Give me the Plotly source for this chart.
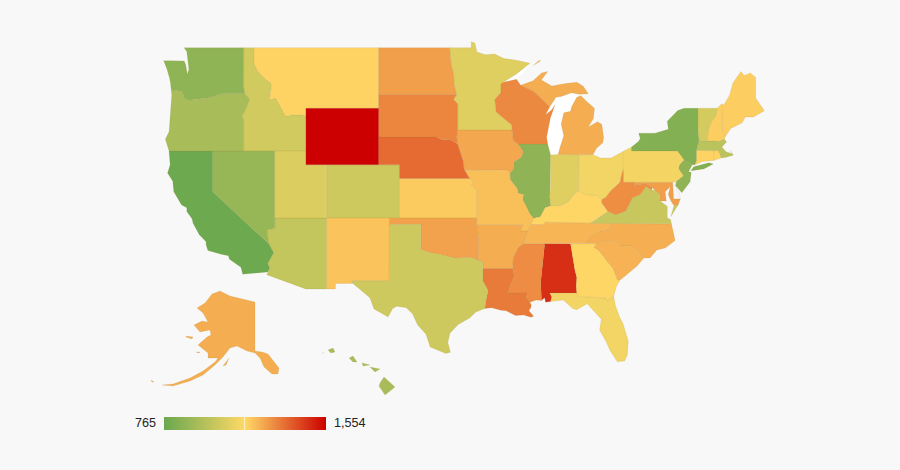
import math
import plotly.graph_objects as go
from plotly.colors import sample_colorscale

states = ['AL', 'AK', 'AZ', 'AR', 'CA', 'CO', 'CT', 'DE', 'FL', 'GA', 'HI', 'ID', 'IL', 'IN', 'IA', 'KS', 'KY',
          'LA', 'ME', 'MD', 'MA', 'MI', 'MN', 'MS', 'MO', 'MT', 'NE', 'NV', 'NH', 'NJ', 'NM', 'NY', 'NC', 'ND',
          'OH', 'OK', 'OR', 'PA', 'RI', 'SC', 'SD', 'TN', 'TX', 'UT', 'VT', 'VA', 'WA', 'WV', 'WI', 'WY']
values = [1470, 1240, 1000, 1240, 772, 1030, 1170, None, 1125, 1165, 930, 1035, 865, 1075, 1250, 1185, 1165,
          1330, 1180, 1265, 980, 1240, 1075, 1300, 1205, 1170, 1360, 885, 1180, 865, 1200, 830, 1235, 1265,
          1125, 1260, 930, 1130, 1170, 1230, 1310, 1225, 1030, 1065, 1045, 1015, 860, 1295, 1305, 1554]
legend_labels = ['765', '1,554']
zmin = 765
zmax = 1554
colorscale = [[0, '#6aa84f'], [0.5, '#ffd966'], [1, '#cc0000']]

# state outlines, lon/lat
outlines = {
    'WA': [[(-122.76, 49), (-117.03, 49), (-117.04, 46.4), (-116.92, 46), (-118.98, 46), (-119.3, 45.93),
            (-120.5, 45.7), (-121.2, 45.65), (-122.3, 45.55), (-122.75, 45.7), (-122.9, 46.1), (-123.4, 46.2),
            (-124, 46.25), (-124.07, 46.7), (-124.15, 47), (-124.4, 47.6), (-124.72, 48.17), (-124, 48.17),
            (-123.1, 48.15), (-122.75, 48.15), (-122.6, 47.9), (-122.45, 47.3), (-122.3, 47.6), (-122.4, 48.2),
            (-122.5, 48.75)]],
    'OR': [[(-124, 46.25), (-123.4, 46.2), (-122.9, 46.1), (-122.75, 45.7), (-122.3, 45.55), (-121.2, 45.65),
            (-120.5, 45.7), (-119.3, 45.93), (-118.98, 46), (-116.92, 46), (-116.46, 45.6), (-116.85, 44.95),
            (-117.2, 44.45), (-117.03, 44.2), (-117.03, 42), (-124.21, 42), (-124.4, 42.4), (-124.56, 42.84),
            (-124.2, 43.4), (-124.05, 44.6), (-123.95, 45.9)]],
    'ID': [[(-117.03, 49), (-116.05, 49), (-116.05, 48), (-115.7, 47.5), (-115, 47), (-114.35, 46.65),
            (-114.55, 45.56), (-113.95, 45.7), (-113.45, 45.05), (-113, 44.45), (-112.3, 44.55), (-111.5, 44.55),
            (-111.05, 44.48), (-111.05, 42), (-117.03, 42), (-117.03, 44.2), (-117.2, 44.45), (-116.85, 44.95),
            (-116.46, 45.6), (-116.92, 46), (-117.04, 46.4)]],
    'MT': [[(-116.05, 49), (-104.05, 49), (-104.05, 45), (-111.05, 45), (-111.05, 44.48), (-111.5, 44.55),
            (-112.3, 44.55), (-113, 44.45), (-113.45, 45.05), (-113.95, 45.7), (-114.55, 45.56), (-114.35, 46.65),
            (-115, 47), (-115.7, 47.5), (-116.05, 48)]],
    'WY': [[(-111.05, 45), (-104.05, 45), (-104.05, 41), (-111.05, 41)]],
    'CO': [[(-109.05, 41), (-102.05, 41), (-102.05, 37), (-109.05, 37)]],
    'UT': [[(-114.04, 42), (-111.05, 42), (-111.05, 41), (-109.05, 41), (-109.05, 37), (-114.04, 37)]],
    'NV': [[(-120, 42), (-114.04, 42), (-114.04, 36.2), (-114.75, 36.1), (-114.7, 35.4), (-114.63, 35), (-120, 39)]],
    'CA': [[(-124.21, 42), (-120, 42), (-120, 39), (-114.63, 35), (-114.15, 34.27), (-114.72, 33.4), (-114.52, 33.03),
            (-114.72, 32.72), (-117.12, 32.53), (-117.3, 33.1), (-118.4, 33.75), (-118.5, 34.03), (-119.2, 34.15),
            (-120.47, 34.45), (-120.65, 34.9), (-120.65, 35.15), (-121.3, 35.7), (-121.9, 36.6), (-122, 36.95),
            (-122.5, 37.5), (-122.5, 37.8), (-123, 38), (-123.75, 39), (-123.85, 39.8), (-124.35, 40.4), (-124.1, 41)]],
    'AZ': [[(-114.04, 37), (-109.05, 37), (-109.05, 31.33), (-111.07, 31.33), (-114.81, 32.5), (-114.72, 32.72),
            (-114.52, 33.03), (-114.72, 33.4), (-114.15, 34.27), (-114.63, 35), (-114.7, 35.4), (-114.75, 36.1),
            (-114.04, 36.2)]],
    'NM': [[(-109.05, 37), (-103, 37), (-103.04, 32), (-106.62, 32), (-106.53, 31.78), (-108.21, 31.78),
            (-108.21, 31.33), (-109.05, 31.33)]],
    'TX': [[(-103.04, 36.5), (-100, 36.5), (-100, 34.56), (-99.2, 34.3), (-98.1, 34.13), (-96.8, 33.85), (-95.2, 33.9),
            (-94.48, 33.64), (-94.04, 33.55), (-94.04, 31.99), (-93.53, 31.2), (-93.7, 30.6), (-93.75, 30.3),
            (-93.84, 29.7), (-94.7, 29.4), (-95.3, 28.9), (-96.4, 28.35), (-97.2, 27.6), (-97.4, 26.8), (-97.15, 25.95),
            (-97.6, 25.85), (-99.1, 26.4), (-99.5, 27.5), (-100.3, 28.3), (-100.8, 29.25), (-101.4, 29.77),
            (-102.3, 29.88), (-102.7, 29.7), (-103.15, 28.98), (-104.5, 29.65), (-104.9, 30.6), (-106.53, 31.78),
            (-106.62, 32), (-103.04, 32)]],
    'OK': [[(-103, 37), (-94.62, 37), (-94.62, 36.5), (-94.43, 35.4), (-94.48, 33.64), (-95.2, 33.9), (-96.8, 33.85),
            (-98.1, 34.13), (-99.2, 34.3), (-100, 34.56), (-100, 36.5), (-103.04, 36.5)]],
    'KS': [[(-102.05, 40), (-95.31, 40), (-94.9, 39.8), (-95.1, 39.5), (-94.61, 39.11), (-94.62, 37), (-102.05, 37)]],
    'NE': [[(-104.05, 43), (-98.5, 43), (-97.9, 42.8), (-97.2, 42.85), (-96.45, 42.49), (-96.1, 41.7), (-95.9, 41.2),
            (-95.85, 40.7), (-95.31, 40), (-102.05, 40), (-102.05, 41), (-104.05, 41)]],
    'SD': [[(-104.05, 45.94), (-96.56, 45.94), (-96.85, 45.6), (-96.45, 45.3), (-96.45, 43.5), (-96.55, 43),
            (-96.45, 42.49), (-97.2, 42.85), (-97.9, 42.8), (-98.5, 43), (-104.05, 43)]],
    'ND': [[(-104.05, 49), (-97.23, 49), (-97.1, 48), (-96.85, 47.3), (-96.8, 46.6), (-96.56, 45.94), (-104.05, 45.94)]],
    'MN': [[(-97.23, 49), (-95.15, 49), (-95.15, 49.38), (-94.8, 49.3), (-94.6, 48.72), (-93.8, 48.55), (-92.9, 48.6),
            (-92, 48.3), (-90.8, 48.2), (-89.5, 48), (-90.8, 47.3), (-92.05, 46.75), (-92.29, 46.66), (-92.29, 46.08),
            (-92.88, 45.6), (-92.75, 44.75), (-91.25, 43.85), (-91.22, 43.5), (-96.45, 43.5), (-96.45, 45.3),
            (-96.85, 45.6), (-96.56, 45.94), (-96.8, 46.6), (-96.85, 47.3), (-97.1, 48)]],
    'IA': [[(-96.45, 43.5), (-91.22, 43.5), (-91.1, 42.75), (-90.65, 42.5), (-90.15, 41.95), (-90.35, 41.55),
            (-91.05, 41.2), (-91.1, 40.7), (-91.42, 40.38), (-91.73, 40.61), (-95.77, 40.58), (-95.85, 40.7),
            (-95.9, 41.2), (-96.1, 41.7), (-96.45, 42.49), (-96.55, 43)]],
    'MO': [[(-95.77, 40.58), (-91.73, 40.61), (-91.42, 40.38), (-91.4, 39.9), (-90.73, 39.25), (-90.65, 38.9),
            (-90.12, 38.8), (-90.2, 38.4), (-89.85, 37.9), (-89.5, 37.3), (-89.15, 36.99), (-89.4, 36.5), (-89.7, 36),
            (-90.37, 36), (-90.15, 36.5), (-94.62, 36.5), (-94.62, 37), (-94.61, 39.11), (-95.1, 39.5), (-94.9, 39.8),
            (-95.31, 40)]],
    'AR': [[(-94.62, 36.5), (-90.15, 36.5), (-90.37, 36), (-89.7, 36), (-89.9, 35.5), (-90.1, 35), (-90.6, 34.7),
            (-91.1, 33.9), (-91.17, 33), (-94.04, 33), (-94.04, 33.55), (-94.48, 33.64), (-94.43, 35.4)]],
    'LA': [[(-94.04, 33), (-91.17, 33), (-91, 32.4), (-91.4, 31.6), (-91.6, 31), (-89.73, 31), (-89.85, 30.67),
            (-89.55, 30.2), (-89.4, 30.05), (-89.4, 29.8), (-89.6, 29.5), (-89.15, 29.05), (-89.4, 28.95), (-90.1, 29.15),
            (-90.9, 29.1), (-91.8, 29.5), (-92.3, 29.55), (-93.2, 29.77), (-93.84, 29.7), (-93.75, 30.3), (-93.7, 30.6),
            (-93.53, 31.2), (-94.04, 31.99)]],
    'MS': [[(-90.1, 35), (-88.2, 35), (-88.1, 34.9), (-88.47, 31.9), (-88.4, 30.37), (-88.9, 30.4), (-89.55, 30.2),
            (-89.85, 30.67), (-89.73, 31), (-91.6, 31), (-91.4, 31.6), (-91, 32.4), (-91.17, 33), (-91.1, 33.9),
            (-90.6, 34.7)]],
    'AL': [[(-88.2, 35), (-85.6, 34.98), (-85.18, 32.87), (-85, 32.3), (-85.05, 31.54), (-85, 31), (-87.6, 31),
            (-87.4, 30.65), (-87.52, 30.28), (-88, 30.23), (-88.1, 30.6), (-88.4, 30.37), (-88.47, 31.9), (-88.1, 34.9)]],
    'GA': [[(-85.6, 34.98), (-83.1, 35), (-83.35, 34.7), (-82.9, 34.48), (-82, 33.5), (-81.5, 33), (-81.1, 32.1),
            (-80.88, 32.03), (-81.2, 31.5), (-81.45, 30.72), (-82.05, 30.36), (-82.2, 30.57), (-84.86, 30.71), (-85, 31),
            (-85.05, 31.54), (-85, 32.3), (-85.18, 32.87)]],
    'FL': [[(-87.6, 31), (-85, 31), (-84.86, 30.71), (-82.2, 30.57), (-82.05, 30.36), (-81.45, 30.72), (-81.3, 30),
            (-80.9, 29), (-80.55, 28.4), (-80.05, 26.9), (-80.15, 25.7), (-80.4, 25.2), (-81.1, 25.12), (-81.8, 26.1),
            (-82.2, 26.9), (-82.8, 27.85), (-82.65, 28.8), (-83.4, 29.5), (-84, 30.1), (-85, 29.6), (-85.4, 29.7),
            (-86.3, 30.4), (-87.52, 30.28), (-87.4, 30.65)]],
    'SC': [[(-83.1, 35), (-82.4, 35.2), (-81.05, 35.15), (-80.8, 34.82), (-79.67, 34.8), (-78.55, 33.86), (-79.2, 33.2),
            (-79.9, 32.7), (-80.88, 32.03), (-81.1, 32.1), (-81.5, 33), (-82, 33.5), (-82.9, 34.48), (-83.35, 34.7)]],
    'NC': [[(-84.32, 35), (-83.1, 35), (-82.4, 35.2), (-81.05, 35.15), (-80.8, 34.82), (-79.67, 34.8), (-78.55, 33.86),
            (-77.95, 33.85), (-77.3, 34.5), (-76.5, 34.65), (-75.55, 35.25), (-75.9, 36.55), (-81.68, 36.59), (-82, 36.1),
            (-82.9, 35.95), (-83.7, 35.55)]],
    'TN': [[(-90.1, 35), (-88.2, 35), (-85.6, 34.98), (-84.32, 35), (-83.7, 35.55), (-82.9, 35.95), (-82, 36.1),
            (-81.68, 36.59), (-83.68, 36.6), (-88.07, 36.68), (-88.07, 36.5), (-89.4, 36.5), (-89.7, 36), (-89.9, 35.5)]],
    'KY': [[(-89.4, 36.5), (-88.07, 36.5), (-88.07, 36.68), (-83.68, 36.6), (-83.1, 36.95), (-82, 37.5), (-82.6, 38.17),
            (-82.6, 38.4), (-83, 38.73), (-84.2, 38.8), (-84.82, 39.1), (-85.4, 38.7), (-85.8, 38.25), (-86.5, 37.95),
            (-87.5, 37.95), (-88.05, 37.8), (-88.5, 37.1), (-89.15, 36.99)]],
    'VA': [[(-83.68, 36.6), (-81.68, 36.59), (-75.9, 36.55), (-76, 36.9), (-76.3, 37), (-76.3, 37.9), (-77, 38.3),
            (-77.05, 38.8), (-77.5, 39.1), (-77.8, 39.13), (-78.35, 39.4), (-78.9, 38.8), (-79.65, 38.55), (-80.3, 37.55),
            (-81.25, 37.25), (-82, 37.5), (-83.1, 36.95)],
           [(-75.95, 37.12), (-75.65, 37.95), (-75.25, 38.03)]],
    'WV': [[(-82.6, 38.17), (-82, 37.5), (-81.25, 37.25), (-80.3, 37.55), (-79.65, 38.55), (-78.9, 38.8), (-78.35, 39.4),
            (-77.8, 39.13), (-77.72, 39.32), (-78.4, 39.62), (-79.48, 39.48), (-79.48, 39.72), (-80.52, 39.72),
            (-80.52, 40.64), (-80.65, 40.4), (-80.85, 39.7), (-81.7, 39.1), (-82.2, 38.6), (-82.6, 38.4)]],
    'MD': [[(-79.48, 39.72), (-75.79, 39.72), (-75.7, 38.46), (-75.05, 38.45), (-75.25, 38.03), (-75.65, 37.95),
            (-75.95, 38.3), (-76.2, 38.8), (-76, 39.4), (-76.5, 39), (-76.4, 38.3), (-77, 38.3), (-77.05, 38.8),
            (-77.5, 39.1), (-77.72, 39.32), (-78.4, 39.62), (-79.48, 39.48)]],
    'DE': [[(-75.79, 39.72), (-75.42, 39.8), (-75.55, 39.5), (-75.1, 38.8), (-75.05, 38.45), (-75.7, 38.46)]],
    'NJ': [[(-74.7, 41.36), (-73.9, 41), (-74.25, 40.5), (-74, 40.45), (-74.1, 39.75), (-74.9, 38.93), (-75.5, 39.45),
            (-75.42, 39.8), (-75.1, 40), (-74.75, 40.2), (-75.2, 40.7), (-75.13, 41)]],
    'PA': [[(-80.52, 41.98), (-79.76, 42.27), (-79.76, 42), (-75.35, 42), (-75.05, 41.75), (-74.7, 41.36), (-75.13, 41),
            (-75.2, 40.7), (-74.75, 40.2), (-75.1, 40), (-75.42, 39.8), (-75.79, 39.72), (-80.52, 39.72)]],
    'NY': [[(-79.76, 42.27), (-79.05, 42.7), (-78.9, 42.9), (-79.05, 43.27), (-77.5, 43.27), (-76.2, 43.55), (-76.3, 44.1),
            (-75.3, 44.85), (-74.7, 45), (-73.35, 45), (-73.35, 43.7), (-73.25, 42.75), (-73.5, 42.05), (-73.5, 41.3),
            (-73.65, 41), (-73.9, 41), (-74.7, 41.36), (-75.05, 41.75), (-75.35, 42), (-79.76, 42)],
           [(-74, 40.6), (-73.75, 40.87), (-72.3, 41.15), (-71.87, 41.07), (-72.8, 40.7), (-74, 40.57)]],
    'VT': [[(-73.35, 45), (-71.5, 45.01), (-71.6, 44.5), (-72.05, 44.1), (-72.35, 43.5), (-72.46, 42.73), (-73.25, 42.75),
            (-73.35, 43.7)]],
    'NH': [[(-71.5, 45.01), (-71.08, 45.3), (-70.98, 43.4), (-70.7, 43.05), (-70.82, 42.87), (-71.3, 42.7), (-72.46, 42.73),
            (-72.35, 43.5), (-72.05, 44.1), (-71.6, 44.5)]],
    'ME': [[(-71.08, 45.3), (-70.85, 45.25), (-70.3, 45.9), (-70, 46.7), (-69.22, 47.46), (-68.9, 47.2), (-68.3, 47.36),
            (-67.8, 47.07), (-67.8, 45.7), (-67.45, 45.3), (-66.97, 44.83), (-68, 44.4), (-68.8, 44.4), (-69.1, 44),
            (-70.2, 43.6), (-70.7, 43.05), (-70.98, 43.4)]],
    'MA': [[(-73.5, 42.05), (-73.25, 42.75), (-72.46, 42.73), (-71.3, 42.7), (-70.82, 42.87), (-70.6, 42.65), (-71.05, 42.3),
            (-70.65, 41.95), (-70.05, 41.8), (-70.25, 42.07), (-69.95, 41.7), (-70.65, 41.55), (-71.12, 41.5),
            (-71.38, 42.02), (-71.8, 42.02)]],
    'RI': [[(-71.8, 42.02), (-71.38, 42.02), (-71.12, 41.5), (-71.85, 41.32)]],
    'CT': [[(-73.5, 42.05), (-71.8, 42.02), (-71.85, 41.32), (-72.9, 41.25), (-73.65, 41), (-73.5, 41.3)]],
    'OH': [[(-84.8, 41.72), (-83.45, 41.73), (-82.7, 41.5), (-81.7, 41.5), (-80.52, 41.98), (-80.52, 40.64), (-80.65, 40.4),
            (-80.85, 39.7), (-81.7, 39.1), (-82.2, 38.6), (-82.6, 38.4), (-83, 38.73), (-84.2, 38.8), (-84.82, 39.1)]],
    'IN': [[(-87.52, 41.72), (-87.2, 41.76), (-86.8, 41.76), (-84.8, 41.76), (-84.82, 39.1), (-85.4, 38.7), (-85.8, 38.25),
            (-86.5, 37.95), (-87.5, 37.95), (-87.6, 38.6), (-87.53, 39.35)]],
    'IL': [[(-90.65, 42.5), (-87.8, 42.5), (-87.52, 41.72), (-87.53, 39.35), (-87.6, 38.6), (-87.5, 37.95), (-88.05, 37.8),
            (-88.5, 37.1), (-89.15, 36.99), (-89.5, 37.3), (-89.85, 37.9), (-90.2, 38.4), (-90.12, 38.8), (-90.65, 38.9),
            (-90.73, 39.25), (-91.4, 39.9), (-91.42, 40.38), (-91.1, 40.7), (-91.05, 41.2), (-90.35, 41.55),
            (-90.15, 41.95)]],
    'WI': [[(-92.29, 46.66), (-92.05, 46.75), (-90.8, 46.95), (-90.4, 46.55), (-89.1, 46.13), (-87.6, 45.1), (-88, 44.55),
            (-87.4, 44.9), (-87.1, 45.25), (-87.55, 44.3), (-87.9, 43), (-87.8, 42.5), (-90.65, 42.5), (-91.1, 42.75),
            (-91.22, 43.5), (-91.25, 43.85), (-92.75, 44.75), (-92.88, 45.6), (-92.29, 46.08)]],
    'MI': [[(-86.8, 41.76), (-84.8, 41.76), (-83.45, 41.73), (-83.1, 42.2), (-82.5, 42.6), (-82.42, 43), (-82.6, 43.9),
            (-83, 44.07), (-83.9, 43.7), (-83.4, 44.3), (-83.3, 45), (-84.1, 45.5), (-84.6, 45.85), (-85, 45.75),
            (-85.5, 45.1), (-85.6, 44.8), (-86.25, 44.7), (-86.5, 43.9), (-86.25, 43.1), (-86.6, 42.3)],
           [(-90.4, 46.55), (-89.2, 46.85), (-88.4, 47.37), (-87.8, 47.47), (-88.4, 46.9), (-87.4, 46.5), (-86.1, 46.67),
            (-85, 46.75), (-84.4, 46.5), (-84.1, 46.2), (-83.9, 45.98), (-84.8, 45.95), (-85.5, 46.05), (-86.5, 45.8),
            (-87, 45.75), (-87.6, 45.1), (-89.1, 46.13)],
           [(-89.2, 47.85), (-88.5, 48.15), (-88.6, 48.2)]],
}

# the lakes show up pure white against the page
lakes = [[(-87.8, 42.5), (-87.52, 41.72), (-87.2, 41.65), (-86.8, 41.76), (-86.6, 42.3), (-86.25, 43.1), (-86.5, 43.9),
          (-86.25, 44.7), (-85.6, 44.8), (-85.5, 45.1), (-85, 45.75), (-84.8, 45.95), (-85.5, 46.05),
          (-86.5, 45.8), (-87, 45.75), (-87.6, 45.1), (-88, 44.55), (-87.55, 44.3), (-87.9, 43)],
         [(-92.05, 46.75), (-90.8, 47.3), (-89.5, 48), (-90.2, 47.35), (-90.8, 46.95)]]

# Alaska and Hawaii sit in insets, so these are already in chart units
inset_outlines = {
    'AK': [[(220, 291), (230, 296), (255, 302), (255, 351), (262, 352), (268, 354), (279, 368), (278, 374), (272, 374),
            (264, 367), (260, 358), (255, 353), (247, 351), (237, 346), (230, 348), (223, 357), (215, 365), (203, 375),
            (190, 381), (173, 386), (162, 385), (173, 384), (190, 378), (203, 371), (215, 362), (218, 358), (208, 358),
            (208, 353), (198, 345), (207, 337), (211, 335), (210, 330), (200, 332), (194, 325), (202, 321), (208, 322),
            (203, 313), (197, 308), (205, 303), (212, 294)],
           [(186, 336), (193, 337), (192, 339), (186, 337)],
           [(223, 366), (229, 358), (226, 365)],
           [(196, 352), (200, 352), (199, 353)],
           [(151, 380), (154, 382), (152, 382)]],
    'HI': [[(380, 383), (384, 377), (395, 387), (385, 395), (379, 386)],
           [(370, 367), (380, 369), (375, 372)],
           [(362, 363), (370, 365), (363, 366)],
           [(349, 358), (353, 356), (357, 362), (353, 362)],
           [(328, 350), (333, 348), (335, 352), (331, 353)],
           [(322, 354), (324, 352), (324, 353)]],
}


def project(lon, lat):
    merc = math.log(math.tan(math.pi / 4 + math.radians(lat) / 2))
    return 1460.8 + 10.4 * lon, 108.3 + (0.8814 - merc) * 592


def ring_xy(rings):
    xs, ys = [], []
    for ring in rings:
        xs += [p[0] for p in ring] + [ring[0][0], None]
        ys += [p[1] for p in ring] + [ring[0][1], None]
    return xs, ys


fig = go.Figure()

lx, ly = ring_xy([[project(*p) for p in lake] for lake in lakes])
fig.add_trace(go.Scatter(x=lx, y=ly, mode='lines', fill='toself', fillcolor='#ffffff', line=dict(width=0),
                         hoverinfo='skip', showlegend=False))

for state, value in zip(states, values):
    if state in inset_outlines:
        rings = inset_outlines[state]
    else:
        rings = [[project(*p) for p in ring] for ring in outlines[state]]
    xs, ys = ring_xy(rings)
    if value is None:
        color = '#f5f5f5'
    else:
        color = sample_colorscale(colorscale, (value - zmin) / (zmax - zmin))[0]
    fig.add_trace(go.Scatter(
        x=xs, y=ys, mode='lines', fill='toself', fillcolor=color,
        line=dict(color='rgba(150,125,50,0.16)', width=0.8),
        name=state, hoveron='fills', text=f'{state}: {value}', hoverinfo='text', showlegend=False
    ))

# only here for the gradient legend
fig.add_trace(go.Scatter(
    x=[-100], y=[-100], mode='markers', showlegend=False, hoverinfo='skip',
    marker=dict(color=[zmin], cmin=zmin, cmax=zmax, colorscale=colorscale, showscale=True,
                colorbar=dict(orientation='h', x=163.5 / 900, xanchor='left', y=27 / 470, yanchor='bottom',
                              lenmode='pixels', len=162, thicknessmode='pixels', thickness=12.5, xpad=0, ypad=0,
                              outlinewidth=0, showticklabels=False, ticks='inside', tickvals=[(zmin + zmax) / 2],
                              ticklen=13, tickwidth=1, tickcolor='rgba(255,255,255,0.6)'))
))

fig.add_annotation(x=157.5, y=423, text=legend_labels[0], showarrow=False, xanchor='right', yanchor='middle')
fig.add_annotation(x=332, y=423, text=legend_labels[1], showarrow=False, xanchor='left', yanchor='middle')

fig.update_xaxes(range=[0, 900], visible=False, fixedrange=True)
fig.update_yaxes(range=[470, 0], visible=False, fixedrange=True)
fig.update_layout(width=900, height=470, margin=dict(l=0, r=0, t=0, b=0),
                  paper_bgcolor='#f8f8f8', plot_bgcolor='#f8f8f8',
                  font=dict(family='Arial, Liberation Sans', size=12.6, color='#222222'))
fig.write_html("out.html", config={'displayModeBar': False},
               post_script="document.body.style.margin='0';document.body.style.background='#f8f8f8';")
